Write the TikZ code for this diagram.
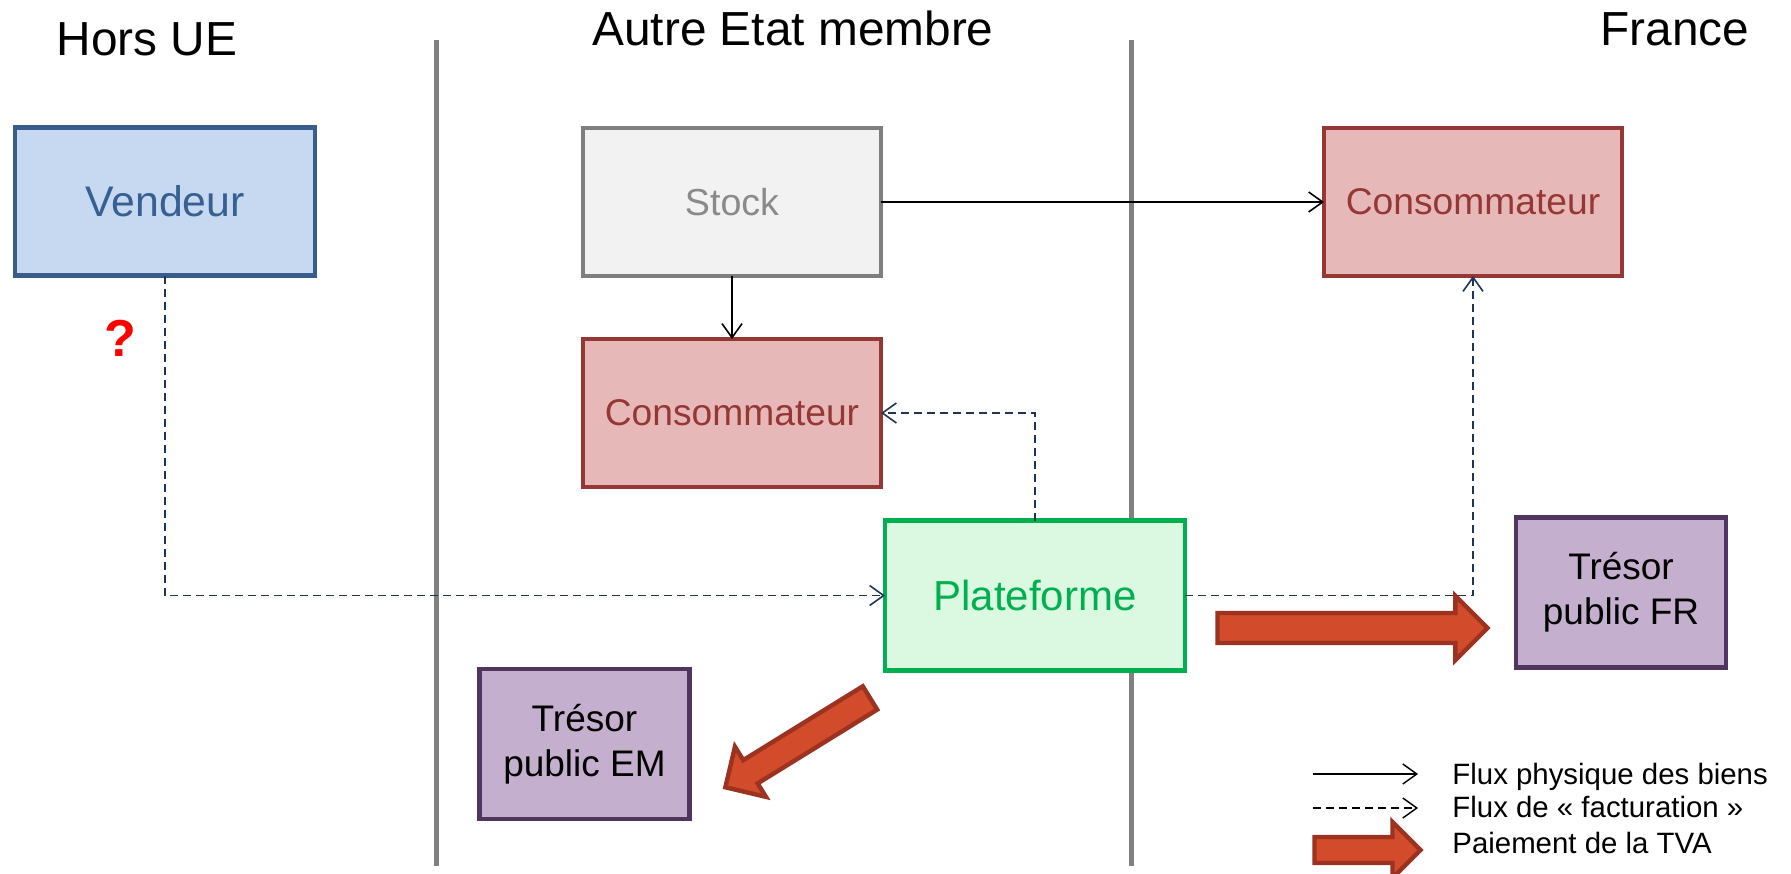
\documentclass[tikz,border=0pt]{standalone}
\usepackage{fontspec}
\setmainfont{Liberation Sans}
\usetikzlibrary{positioning, arrows.meta, shapes.arrows}

\definecolor{vendfill}{HTML}{C6D9F1}
\definecolor{venddraw}{HTML}{385D8A}
\definecolor{vendtext}{HTML}{376092}
\definecolor{stkfill}{HTML}{F2F2F2}
\definecolor{stkdraw}{HTML}{7F7F7F}
\definecolor{stktext}{HTML}{8A8A8A}
\definecolor{consfill}{HTML}{E6B9B8}
\definecolor{consdraw}{HTML}{953735}
\definecolor{platfill}{HTML}{DBF8E1}
\definecolor{platdraw}{HTML}{00B050}
\definecolor{tresfill}{HTML}{C5AFCE}
\definecolor{tresdraw}{HTML}{4F3560}
\definecolor{payfill}{HTML}{D24B2A}
\definecolor{paydraw}{HTML}{9B3320}
\definecolor{factcol}{HTML}{1F3557}
\definecolor{sepcol}{HTML}{808080}

\newcommand{\fsz}[1]{\fontsize{#1}{1.2\dimexpr#1pt\relax}\selectfont}

\begin{document}
\begin{tikzpicture}[x=0.5pt, y=-0.5pt, >={Straight Barb[length=7pt, width=10pt]}]

\tikzset{
  box/.style={draw, rectangle, line width=2.2pt, inner sep=0pt, outer sep=0pt, align=center},
  vend/.style={box, fill=vendfill, draw=venddraw, text=vendtext, font=\fsz{21.4}, minimum width=150pt, minimum height=74pt},
  stk/.style={box, fill=stkfill, draw=stkdraw, text=stktext, font=\fsz{18.8}, minimum width=149pt, minimum height=74pt},
  cons/.style={box, fill=consfill, draw=consdraw, text=consdraw, font=\fsz{18.6}, minimum width=149pt, minimum height=74pt},
  plat/.style={box, fill=platfill, draw=platdraw, text=platdraw, font=\fsz{21}, minimum width=150pt, minimum height=75pt},
  tres/.style={box, fill=tresfill, draw=tresdraw, text=black, font={\fontsize{18.5}{22.5}\selectfont}, minimum width=105pt, minimum height=75pt},
  title/.style={anchor=base, font=\fsz{23.9}},
  legtext/.style={anchor=base west, inner sep=0pt, font=\fsz{14.7}},
  sep/.style={draw=sepcol, line width=2.5pt},
  phys/.style={->, black, line width=0.8pt},
  fact/.style={->, factcol, line width=0.8pt, dash pattern=on 4pt off 2.5pt},
  pay/.style={single arrow, fill=payfill, draw=paydraw, line width=2.2pt, inner sep=0pt, outer sep=0pt, minimum width=0pt},
}

\useasboundingbox (0,0) rectangle (1791,873);

% zones
\node[title] (horsue) at (147,55) {Hors UE};
\node[title] (autre) at (793,45) {Autre Etat membre};
\node[title] (france) at (1675,45) {France};
\draw[sep] (436,40) -- (436,866);
\draw[sep] (1131,40) -- (1131,866);

% acteurs
\node[vend] (vendeur) at (165,201.5) {Vendeur};
\node[stk] (stock) at (732,202) {Stock};
\node[cons] (consEM) at (732,413) {Consommateur};
\node[cons] (consFR) at (1473,202) {Consommateur};
\node[plat] (plat) at (1035,595.5) {Plateforme};
\node[tres] (tresFR) at (1621,592.5) {Trésor\\public FR};
\node[tres] (tresEM) at (584.5,744) {Trésor\\public EM};
\node[text=red, font=\bfseries\fsz{26}] (quest) at (120,338) {?};

% flux
\draw[phys] (stock.east) -- (consFR.west);
\draw[phys] (stock.south) -- (consEM.north);
\draw[fact] (vendeur.south) |- (plat.west);
\draw[fact] (plat.north) |- (consEM.east);
\draw[fact] (plat.east) -| (consFR.south);

% paiement TVA
\node[pay, minimum height=135pt, text height=6.4pt, text depth=6.4pt, single arrow head extend=8.6pt] (payFR) at (1345,628) {};
\node[pay, minimum height=85pt, text height=5.75pt, text depth=5.75pt, single arrow head extend=7.9pt, rotate=211.7] (payEM) at (803.5,739) {};

% legende
\coordinate (physA) at (1313,774);
\coordinate (physB) at (1418,774);
\coordinate (factA) at (1313,808);
\coordinate (factB) at (1418,808);
\draw[phys, line width=0.7pt] (physA) -- (physB);
\draw[fact, black, line width=0.7pt] (factA) -- (factB);
\node[pay, minimum height=53pt, text height=5.4pt, text depth=5.4pt, single arrow head extend=7.5pt] (legpay) at (1361,850) {};
\node[legtext] (legphys) at (1452,784) {Flux physique des biens};
\node[legtext] (legfact) at (1452,817) {Flux de « facturation »};
\node[legtext] (legpaie) at (1452,853) {Paiement de la TVA};

\end{tikzpicture}
\end{document}
